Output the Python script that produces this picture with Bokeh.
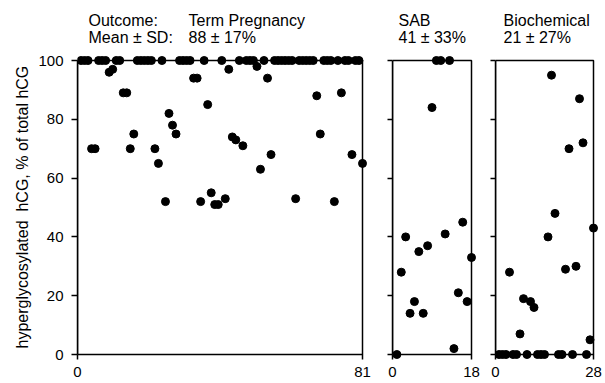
from bokeh.plotting import figure
from bokeh.layouts import row
from bokeh.models import Range1d, FixedTicker, BoxAnnotation, Label, ColumnDataSource, Title
from bokeh.embed import file_html
from bokeh.resources import INLINE

# ---- data (hyperglycosylated hCG, % of total hCG), in sample order ----
term_values = [100, 100, 100, 70, 70, 100, 100, 100, 96, 97,
               100, 100, 89, 89, 70, 75, 100, 100, 100, 100,
               100, 70, 65, 100, 52, 82, 78, 75, 100, 100,
               100, 100, 94, 94, 52, 100, 85, 55, 51, 51,
               100, 53, 97, 74, 73, 100, 71, 100, 100, 100,
               98, 63, 100, 94, 68, 100, 100, 100, 100, 100,
               100, 53, 100, 100, 100, 100, 100, 88, 75, 100,
               100, 100, 52, 100, 89, 100, 100, 68, 100, 100,
               65]
sab_values = [0, 28, 40, 14, 18, 35, 14, 37, 84, 100, 100, 41, 100, 2, 21, 45, 18, 33]
biochem_values = [0, 0, 0, 28, 0, 0, 7, 19, 0, 18, 16, 0, 0, 0, 40,
                  95, 48, 0, 0, 29, 70, 0, 30, 87, 72, 0, 5, 43]

outcome_header = "Outcome:"
stats_header = "Mean \u00b1 SD:"
panel_titles = ["Term Pregnancy", "SAB", "Biochemical"]
panel_stats = ["88 \u00b1 17%", "41 \u00b1 33%", "21 \u00b1 27%"]
y_ticks = [0, 20, 40, 60, 80, 100]
y_label = "hyperglycosylated\u00a0 hCG, % of total hCG"

FONT = "Liberation Sans"
H = 383
BOX_TOP = 60        # px of the y=100 line
BOX_BOTTOM = 354    # px of the y=0 line
PAD = 5
BOTTOM = H - BOX_BOTTOM - PAD
px_y = (BOX_BOTTOM - BOX_TOP) / 100.0
y_lo = -PAD / px_y
y_hi = 100 + BOX_TOP / px_y


def make_panel(values, title, stat, border_left, box_w, border_right, first, text_dx):
    n = len(values)
    xs = list(range(1, n + 1))
    px_x = box_w / n
    pad_x = PAD / px_x
    width = border_left + box_w + PAD + border_right
    p = figure(width=width, height=H,
               x_range=Range1d(0, n + pad_x), y_range=Range1d(y_lo, y_hi),
               output_backend="svg", toolbar_location=None,
               min_border_left=border_left, min_border_right=border_right,
               min_border_top=0, min_border_bottom=BOTTOM)
    p.outline_line_color = None
    p.xgrid.visible = False
    p.ygrid.visible = False
    p.background_fill_color = "white"
    p.border_fill_color = "white"

    src = ColumnDataSource(dict(x=xs, y=values))
    p.scatter(x="x", y="y", source=src, size=8, color="black")

    p.add_layout(BoxAnnotation(left=0, right=n, bottom=0, top=100,
                               fill_color=None, fill_alpha=0,
                               line_color="black", line_alpha=1.0, line_width=1.5))

    # x axis
    xa = p.xaxis[0]
    xa.ticker = FixedTicker(ticks=[0, n])
    xa.axis_line_color = None
    xa.major_tick_in = PAD
    xa.major_tick_out = 0
    xa.minor_tick_in = 0
    xa.minor_tick_out = 0
    xa.major_tick_line_color = "black"
    xa.major_tick_line_width = 1.5
    xa.major_label_standoff = 7
    xa.major_label_text_font = FONT
    xa.major_label_text_font_size = "15px"
    xa.major_label_text_color = "black"

    # y axis
    ya = p.yaxis[0]
    ya.ticker = FixedTicker(ticks=y_ticks)
    ya.bounds = (0, 100)
    ya.axis_line_color = "black"
    ya.axis_line_width = 1.5
    ya.major_tick_in = 0
    ya.major_tick_out = 6
    ya.minor_tick_in = 0
    ya.minor_tick_out = 0
    ya.major_tick_line_color = "black"
    ya.major_tick_line_width = 1.5
    ya.major_label_text_font = FONT
    ya.major_label_text_font_size = "15px"
    ya.major_label_text_color = "black"
    if first:
        ya.major_label_standoff = 8
        p.add_layout(Title(text=y_label, align="left", offset=11, standoff=10,
                           text_font=FONT, text_font_size="16px",
                           text_font_style="normal", text_color="black"), "left")
    else:
        ya.major_tick_out = 5
        ya.major_label_overrides = {t: "" for t in y_ticks}
        ya.major_label_standoff = 2

    line1_y = 100 + (BOX_TOP - 28.3) / px_y
    line2_y = 100 + (BOX_TOP - 45.7) / px_y
    if first:
        left_x = 11 / px_x
        p.add_layout(Label(x=left_x, y=line1_y, text=outcome_header, text_font=FONT,
                           text_font_size="16px", text_color="black"))
        p.add_layout(Label(x=left_x, y=line2_y, text=stats_header, text_font=FONT,
                           text_font_size="16px", text_color="black"))
    col_x = text_dx / px_x
    p.add_layout(Label(x=col_x, y=line1_y, text=title, text_font=FONT,
                       text_font_size="16px", text_color="black"))
    p.add_layout(Label(x=col_x, y=line2_y, text=stat, text_font=FONT,
                       text_font_size="16px", text_color="black"))
    return p


p1 = make_panel(term_values, panel_titles[0], panel_stats[0], 77, 285, 13, True, 111)
p2 = make_panel(sab_values, panel_titles[1], panel_stats[1], 12, 79, 8, False, 6)
p3 = make_panel(biochem_values, panel_titles[2], panel_stats[2], 11, 98, 7, False, 8)

layout = row(p1, p2, p3, spacing=0)

open("out.html", "w").write(file_html(layout, INLINE))
